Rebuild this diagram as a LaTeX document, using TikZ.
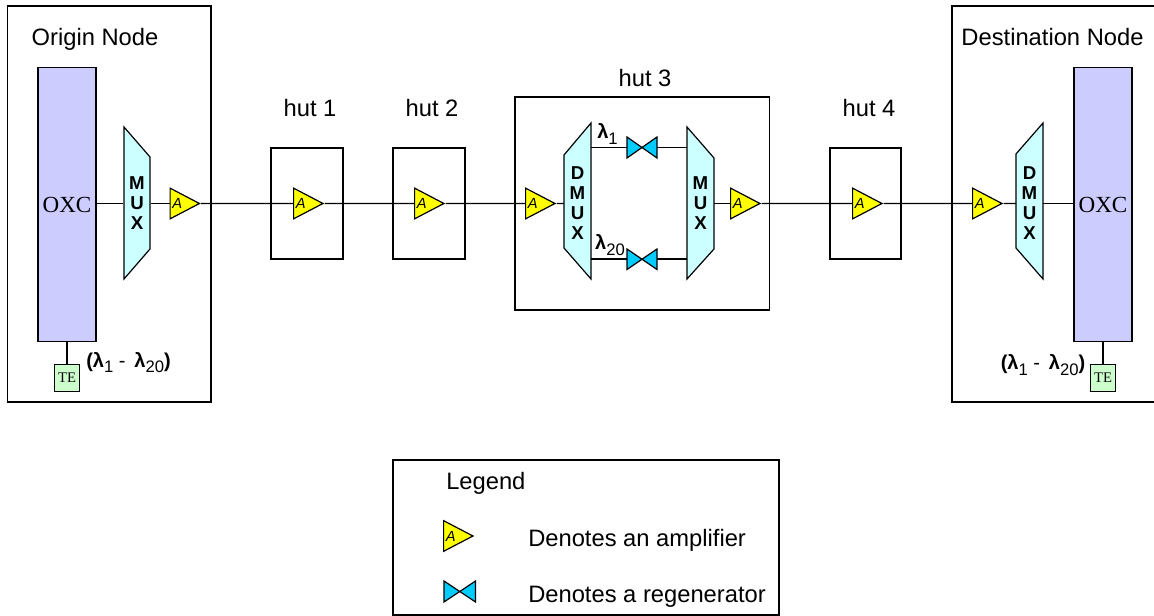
\documentclass[tikz,border=0pt]{standalone}
\usepackage{fontspec}
\setmainfont{Liberation Sans}
\newfontfamily\oxcfont{Liberation Serif}
\usetikzlibrary{shapes.geometric}
\definecolor{oxcblue}{RGB}{204, 204, 255}
\definecolor{muxcyan}{RGB}{204, 255, 255}
\definecolor{tegreen}{RGB}{204, 255, 204}
\definecolor{ampyellow}{RGB}{255, 255, 0}
\definecolor{regencyan}{RGB}{0, 204, 255}
\newcommand{\lamsub}[1]{\textbf{λ}\raisebox{-0.5ex}{\fontsize{12.5}{13}\selectfont #1}}
\tikzset{
  wire/.style={line width=0.9pt},
  housing/.style={draw,line width=0.95pt},
  oxcbox/.style={draw,line width=0.95pt,fill=oxcblue,minimum width=43.5pt,minimum height=206pt,inner sep=0pt,font=\oxcfont\fontsize{17.3}{20}\selectfont},
  tebox/.style={draw,line width=0.9pt,fill=tegreen,minimum width=19pt,minimum height=20pt,inner sep=0pt,font=\oxcfont\fontsize{11}{12}\selectfont},
  muxshape/.style={draw,line width=0.9pt,fill=muxcyan},
  muxlabel/.style={minimum width=20pt,minimum height=114pt,inner sep=0pt,align=center,font=\bfseries\fontsize{14}{15}\selectfont},
  amp/.style={draw,line width=0.9pt,fill=ampyellow,isosceles triangle,isosceles triangle stretches,minimum width=23pt,minimum height=22pt,inner sep=0pt,anchor=west,font=\itshape\fontsize{11}{11}\selectfont},
  regenshape/.style={draw,line width=0.9pt,fill=regencyan},
  regenpoint/.style={minimum width=22.5pt,minimum height=15pt,inner sep=0pt},
  title/.style={font=\fontsize{17.8}{20}\selectfont},
  keytext/.style={title,anchor=west,inner sep=0pt},
  lamlabel/.style={font=\fontsize{15}{18}\selectfont}
}

\begin{document}
\begin{tikzpicture}[x=0.75pt,y=-0.75pt]
\useasboundingbox (0,0) rectangle (1154,616);
% housings
\draw[housing] (7.5,6) rectangle (211,402);
\draw[housing] (271,148) rectangle (343,259);
\draw[housing] (393,148) rectangle (465,259);
\draw[housing] (515,97) rectangle (769.5,310);
\draw[housing] (830,148) rectangle (901,259);
\draw[housing] (1154,6) -- (952,6) -- (952,402) -- (1154,402);
\draw[housing] (393,460) rectangle (779,615);
\node[title] (origin) at (95,39) {Origin Node};
\node[title] (dest) at (1052.5,37) {Destination Node};
\node[title] (hut1) at (310,108) {hut 1};
\node[title] (hut2) at (432,108) {hut 2};
\node[title] (hut3) at (645,78) {hut 3};
\node[title] (hut4) at (869,108) {hut 4};
% origin node
\node[oxcbox] (oxc1) at (67,204.5) {OXC};
\node[tebox] (te1) at (67,378) {TE};
\draw[muxshape] (124,127) -- (150,157) -- (150,249) -- (124,279) -- cycle;
\node[muxlabel] (mux1) at (137,203.5) {M\\U\\X};
\node[amp] (amp1) at (169.5,203.5) {\hspace{-1pt}A};
\node[lamlabel] (range1) at (128.5,362.5) {\textbf{(}\lamsub{1} -\, \lamsub{20}\textbf{)}};
% huts 1 and 2
\node[amp] (amp2) at (293,203.5) {\hspace{-1pt}A};
\node[amp] (amp3) at (414,203.5) {\hspace{-1pt}A};
% hut 3
\node[amp] (amp4) at (525,203.5) {\hspace{-1pt}A};
\draw[muxshape] (591,123) -- (564,155) -- (564,248) -- (591,279) -- cycle;
\node[muxlabel] (dmux1) at (577.5,203.5) {D\\M\\U\\X};
\draw[regenshape] (627,137) -- (657,158) -- (657,137) -- (627,158) -- cycle;
\node[regenpoint] (regen1) at (642,147.5) {};
\draw[regenshape] (627,249) -- (657,269.5) -- (657,249) -- (627,269.5) -- cycle;
\node[regenpoint] (regen2) at (642,259) {};
\draw[muxshape] (687,127) -- (714,158) -- (714,249) -- (687,279) -- cycle;
\node[muxlabel] (mux2) at (700.5,203.5) {M\\U\\X};
\node[amp] (amp5) at (730,203.5) {\hspace{-1pt}A};
\coordinate (dmuxa) at (591,147.5);
\coordinate (dmuxb) at (591,259);
\coordinate (muxa) at (687,147.5);
\coordinate (muxb) at (687,259);
\node[lamlabel] (lam1) at (607.5,134) {\lamsub{1}};
\node[lamlabel] (lam20) at (610,245) {\lamsub{20}};
% hut 4
\node[amp] (amp6) at (852,203.5) {\hspace{-1pt}A};
% destination node
\node[amp] (amp7) at (972,203.5) {\hspace{-1pt}A};
\draw[muxshape] (1043,123) -- (1016,154) -- (1016,248) -- (1043,279) -- cycle;
\node[muxlabel] (dmux2) at (1029.5,203.5) {D\\M\\U\\X};
\node[oxcbox] (oxc2) at (1103,204.5) {OXC};
\node[tebox] (te2) at (1103,378) {TE};
\node[lamlabel] (range2) at (1043,365) {\textbf{(}\lamsub{1} -\, \lamsub{20}\textbf{)}};
% connectors
\draw[wire] (oxc1.east |- mux1) -- (mux1.west);
\draw[wire] (oxc1) -- (te1);
\draw[wire] (mux1.east) -- (amp1.west);
\draw[wire] (amp1.apex) -- (amp2.west);
\draw[wire] (amp2.apex) -- (amp3.west);
\draw[wire] (amp3.apex) -- (amp4.west);
\draw[wire] (amp4.apex) -- (dmux1.west);
\draw[wire] (dmuxa) -- (regen1.west);
\draw[wire] (regen1.east) -- (muxa);
\draw[wire] (dmuxb) -- (regen2.west);
\draw[wire] (regen2.east) -- (muxb);
\draw[wire] (mux2.east) -- (amp5.west);
\draw[wire] (amp5.apex) -- (amp6.west);
\draw[wire] (amp6.apex) -- (amp7.west);
\draw[wire] (amp7.apex) -- (dmux2.west);
\draw[wire] (dmux2.east) -- (oxc2.west |- dmux2);
\draw[wire] (oxc2) -- (te2);
% legend
\node[keytext] (legend) at (446,483) {Legend};
\node[amp] (ampkey) at (443,536) {\hspace{-1pt}A};
\node[keytext] (ampnote) at (528,540) {Denotes an amplifier};
\draw[regenshape] (444,581) -- (475.5,602) -- (475.5,581) -- (444,602) -- cycle;
\node[regenpoint] (regenkey) at (460,591.5) {};
\node[keytext] (regennote) at (528,596.5) {Denotes a regenerator};
\end{tikzpicture}
\end{document}
